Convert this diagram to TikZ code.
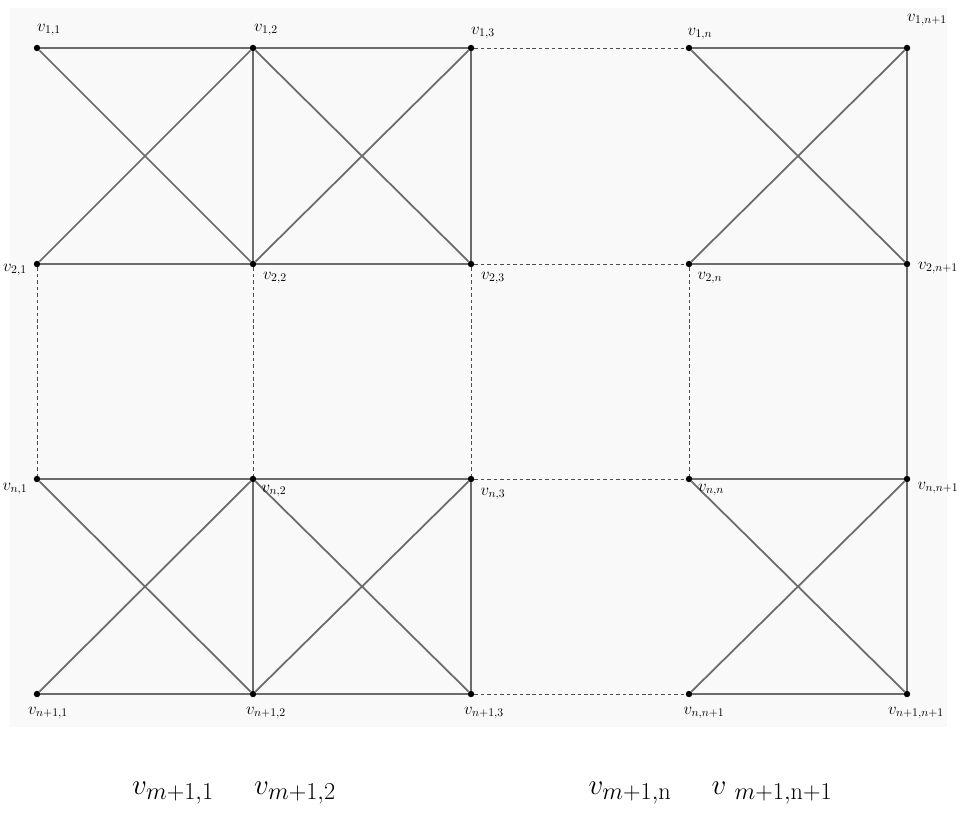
\documentclass[tikz,border=0pt]{standalone}
\usepackage{amsmath,amssymb}
\usepackage{tikz}
\usetikzlibrary{positioning}

\tikzset{
  dot/.style={circle,fill=black,inner sep=0pt,minimum size=5.5pt},
  edge/.style={draw=black!58,line width=1.5pt},
  gap/.style={draw=black!70,line width=0.8pt,dash pattern=on 3pt off 2.5pt},
  lab/.style={font=\Large,inner sep=0pt},
  foot/.style={font=\Huge,inner sep=0pt}
}

\begin{document}
\begin{tikzpicture}[x=0.03cm,y=-0.03cm]
\useasboundingbox (0,0) rectangle (963,812);
\fill[black!2.5] (10,8) rectangle (947,727);

% vertices: rows 1,2,n,n+1 (N) and columns 1,2,3,n,n+1 (N)
\foreach \c/\x in {1/37,2/253,3/471,n/689,N/907}{
  \foreach \r/\y in {1/48,2/264,n/479,N/694}{
    \node[dot] (v\r\c) at (\x,\y) {};
  }
}

% squares with both diagonals
\foreach \a/\b/\c/\d in {v11/v12/v21/v22,v12/v13/v22/v23,v1n/v1N/v2n/v2N,
                         vn1/vn2/vN1/vN2,vn2/vn3/vN2/vN3,vnn/vnN/vNn/vNN}{
  \draw[edge] (\a) -- (\b) -- (\d) -- (\c) -- cycle;
  \draw[edge] (\a) -- (\d) (\b) -- (\c);
}
\draw[edge] (v2N) -- (vnN);

% omitted parts
\draw[gap] (v13) -- (v1n) (v23) -- (v2n) (vn3) -- (vnn) (vN3) -- (vNn);
\draw[gap] (v21) -- (vn1) (v22) -- (vn2) (v23) -- (vn3) (v2n) -- (vnn);

% labels
\foreach \v/\dx/\dy/\t in {11/12/-18/{1,1},12/13/-18/{1,2},13/12/-15/{1,3},1n/11/-14/{1,n},1N/20/-28/{1,n+1},
    21/-22/6/{2,1},22/22/14/{2,2},23/22/14/{2,3},2n/21/14/{2,n},2N/31/4/{2,n+1},
    n1/-22/10/{n,1},n2/21/12/{n,2},n3/22/15/{n,3},nn/22/11/{n,n},nN/31/9/{n,n+1},
    N1/11/19/{n+1,1},N2/13/19/{n+1,2},N3/13/19/{n+1,3},Nn/15/19/{n,n+1},NN/9/19/{n+1,n+1}}{
  \path (v\v) ++(\dx,\dy) node[lab] (l\v) {$v_{\t}$};
}

\node[foot] (f1) at (173,793) {$v_{m+1,1}$};
\node[foot] (f2) at (295,793) {$v_{m+1,2}$};
\node[foot] (fn) at (630,793) {$v_{m+1,\mathrm{n}}$};
\node[foot] (fN) at (772,793) {$v\;_{m+1,\mathrm{n}+1}$};
\end{tikzpicture}
\end{document}
